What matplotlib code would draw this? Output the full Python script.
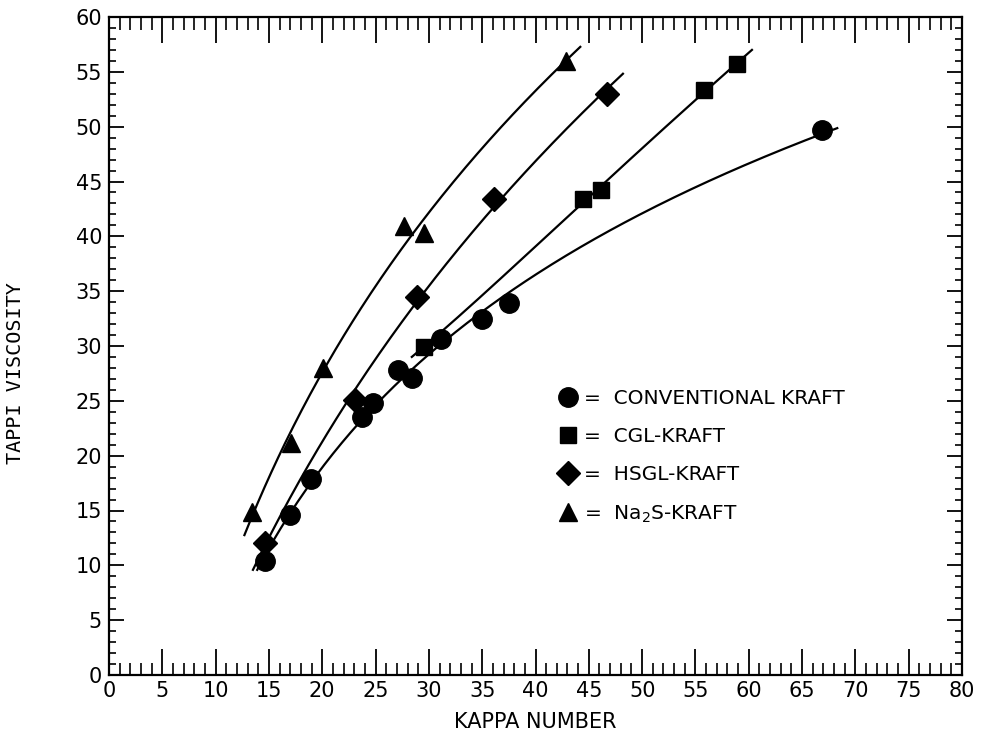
import numpy as np
import matplotlib
matplotlib.use("Agg")
import matplotlib.pyplot as plt
from matplotlib.lines import Line2D
from matplotlib.ticker import MultipleLocator

plt.rcParams["font.family"] = ["DejaVu Sans"]
plt.rcParams["mathtext.default"] = "regular"

# ===== dados =====
conv_kappa = [14.6, 17.0, 18.9, 23.7, 24.8, 27.1, 28.4, 31.1, 35.0, 37.5, 66.9]
conv_visc  = [10.4, 14.6, 17.9, 23.5, 24.8, 27.8, 27.1, 30.6, 32.5, 33.9, 49.7]
cgl_kappa  = [29.5, 44.5, 46.1, 55.8, 58.9]
cgl_visc   = [29.9, 43.4, 44.2, 53.3, 55.7]
hsgl_kappa = [14.6, 23.1, 28.9, 36.1, 46.7]
hsgl_visc  = [12.0, 25.1, 34.5, 43.4, 53.0]
na2s_kappa = [13.4, 17.1, 20.1, 27.7, 29.5, 42.9]
na2s_visc  = [14.9, 21.2, 28.0, 40.9, 40.3, 56.0]

# faixa das curvas ajustadas (inicio, fim em kappa)
conv_range = (13.9, 68.3)
cgl_range  = (28.4, 60.3)
hsgl_range = (13.5, 48.2)
na2s_range = (12.7, 44.2)

labels = ["=  CONVENTIONAL KRAFT", "=  CGL-KRAFT", "=  HSGL-KRAFT", "=  Na$_2$S-KRAFT"]
markers = ["o", "s", "D", "^"]
msizes = [14, 12, 12, 13]

series = [
    (conv_kappa, conv_visc, conv_range),
    (cgl_kappa, cgl_visc, cgl_range),
    (hsgl_kappa, hsgl_visc, hsgl_range),
    (na2s_kappa, na2s_visc, na2s_range),
]

fig = plt.figure(figsize=(9.82, 7.33), dpi=100)
ax = fig.add_axes([109/982, 1 - 675/733, (962 - 109)/982, (675 - 17)/733])

for (xk, yv, rng), mk, ms in zip(series, markers, msizes):
    xk = np.array(xk)
    yv = np.array(yv)
    # ajuste quadratico em ln(kappa)
    coef = np.polyfit(np.log(xk), yv, 2)
    xs = np.linspace(rng[0], rng[1], 200)
    ax.plot(xs, np.polyval(coef, np.log(xs)), color="black", lw=1.6)
    ax.plot(xk, yv, ls="none", marker=mk, ms=ms, color="black")

ax.set_xlim(0, 80)
ax.set_ylim(0, 60)
ax.xaxis.set_major_locator(MultipleLocator(5))
ax.xaxis.set_minor_locator(MultipleLocator(1))
ax.yaxis.set_major_locator(MultipleLocator(5))
ax.yaxis.set_minor_locator(MultipleLocator(1))
ax.tick_params(axis="x", which="major", direction="in", top=True, length=19, width=1.3,
               labelsize=15, pad=4)
ax.tick_params(axis="x", which="minor", direction="in", top=True, length=9, width=1.2)
ax.tick_params(axis="y", which="major", direction="in", right=True, length=11, width=1.3,
               labelsize=15, pad=5)
ax.tick_params(axis="y", which="minor", direction="in", right=True, length=5, width=1.2)
for s in ax.spines.values():
    s.set_linewidth(1.6)

ax.set_xlabel("KAPPA NUMBER", fontsize=15, labelpad=8)
ax.set_ylabel("TAPPI VISCOSITY", fontsize=14.5, family="DejaVu Sans Mono")
ax.yaxis.set_label_coords(-0.098, 0.459)

handles = [Line2D([], [], ls="none", marker=mk, ms=ms, color="black")
           for mk, ms in zip(markers, msizes)]
ax.legend(handles, labels, loc="upper left", bbox_to_anchor=(0.505, 0.462),
          frameon=False, fontsize=14.5, handlelength=1.0, handletextpad=0.3,
          labelspacing=0.95)

fig.savefig("out.png", dpi=100)
